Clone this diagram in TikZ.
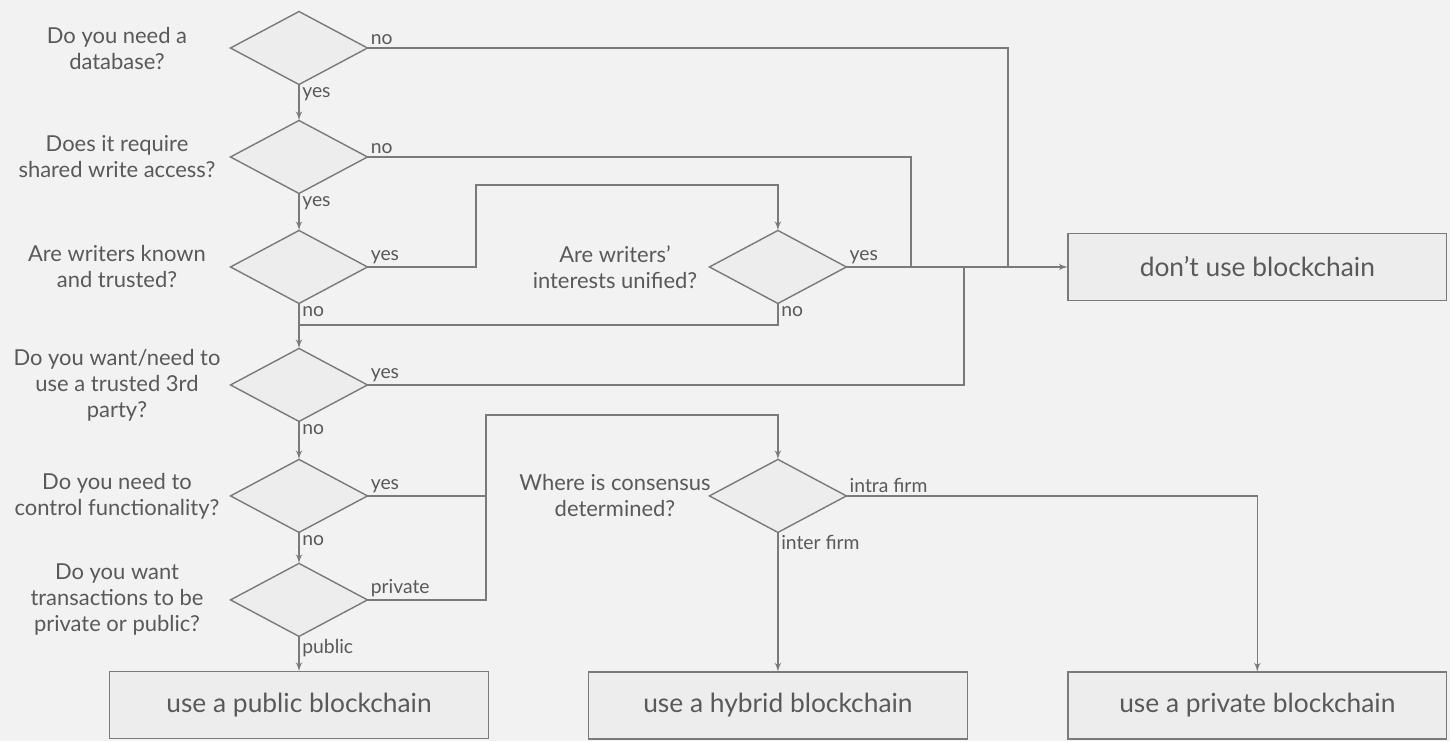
\documentclass[tikz,border=0pt]{standalone}
\usepackage{fontspec}
\setmainfont{Lato}
\usetikzlibrary{shapes,arrows,positioning}
\definecolor{bgcol}{HTML}{F2F2F2}
\definecolor{edgecol}{HTML}{7A7A7A}
\definecolor{txtcol}{HTML}{595959}
\definecolor{fillcol}{HTML}{EDEDED}
\tikzstyle{decision} = [diamond, draw=edgecol, fill=fillcol, line width=0.8pt, minimum width=2.74cm, minimum height=1.46cm, inner sep=0pt, outer sep=0pt]
\tikzstyle{question} = [align=center, text=txtcol, font=\fontsize{12.5}{14.8}\selectfont]
\tikzstyle{outcome} = [rectangle, draw=edgecol, fill=fillcol, line width=0.8pt, minimum width=7.58cm, minimum height=1.34cm, text=txtcol, font=\fontsize{15}{18}\selectfont, outer sep=0pt]
\tikzstyle{answer} = [text=txtcol, font=\fontsize{11}{13}\selectfont, inner sep=1.5pt]
\tikzstyle{line} = [draw=edgecol, line width=0.8pt, -latex']
\tikzstyle{link} = [draw=edgecol, line width=0.8pt]

\begin{document}
\begin{tikzpicture}[x=0.02cm, y=-0.02cm]
    \path[use as bounding box, fill=bgcol] (0,0) rectangle (1450,741);

    % Place nodes
    \node [decision] (d1) at (299,48) {};
    \node [decision, below=0.72cm of d1] (d2) {};
    \node [decision, below=0.74cm of d2] (d3) {};
    \node [decision, below=0.9cm of d3] (d4) {};
    \node [decision, below=0.76cm of d4] (d5) {};
    \node [decision, below=0.62cm of d5] (d6) {};
    \node [decision, right=6.84cm of d3] (dA) {};
    \node [decision, right=6.84cm of d5] (dB) {};

    \node [question] (q1) at (117,0 |- d1) {Do you need a\\database?};
    \node [question] (q2) at (117,0 |- d2) {Does it require\\shared write access?};
    \node [question] (q3) at (117,0 |- d3) {Are writers known\\and trusted?};
    \node [question] (q4) at (117,0 |- d4) {Do you want/need to\\use a trusted 3rd\\party?};
    \node [question] (q5) at (117,0 |- d5) {Do you need to\\control functionality?};
    \node [question] (q6) at (117,0 |- d6) {Do you want\\transactions to be\\private or public?};
    \node [question] (qA) at (615,0 |- dA) {Are writers’\\interests unified?};
    \node [question] (qB) at (615,0 |- dB) {Where is consensus\\determined?};

    \node [outcome, right=4.43cm of dA] (dont) {don’t use blockchain};
    \node [outcome, below=0.7cm of d6] (public) {use a public blockchain};
    \node [outcome, below=2.79cm of dB] (hybrid) {use a hybrid blockchain};
    \node [outcome] (private) at (dont |- hybrid) {use a private blockchain};

    \coordinate (nodb) at (1008,0 |- dont);
    \coordinate (noshare) at (911,0 |- dont);
    \coordinate (thirdp) at (964,0 |- dont);
    \coordinate (back) at (299,325);
    \coordinate (priv) at (486,0 |- d5);

    % Draw edges
    \path [line] (d1.south) node[answer, anchor=north west] (l1) {yes} -- (d2.north);
    \path [line] (d2.south) node[answer, anchor=north west] (l2) {yes} -- (d3.north);
    \path [line] (d3.south) node[answer, anchor=north west] (l3) {no} -- (d4.north);
    \path [line] (d4.south) node[answer, anchor=north west] (l4) {no} -- (d5.north);
    \path [line] (d5.south) node[answer, anchor=north west] (l5) {no} -- (d6.north);
    \path [line] (d6.south) node[answer, anchor=north west] (l6) {public} -- (public.north);

    \path [link] (d1.east) node[answer, anchor=south west] (l7) {no} -| (nodb);
    \path [link] (d2.east) node[answer, anchor=south west] (l8) {no} -| (noshare);
    \path [line] (d3.east) node[answer, anchor=south west] (l9) {yes} -| (476,185) -| (dA.north);
    \path [line] (dA.east) node[answer, anchor=south west] (l10) {yes} -- (dont.west);
    \path [link] (dA.south) node[answer, anchor=north west] (l11) {no} |- (back);
    \path [link] (d4.east) node[answer, anchor=south west] (l12) {yes} -| (thirdp);
    \path [line] (d5.east) node[answer, anchor=south west] (l13) {yes} -| (486,415) -| (dB.north);
    \path [link] (d6.east) node[answer, anchor=south west] (l14) {private} -| (priv);
    \path [line] (dB.east) node[answer, anchor=south west] (l15) {intra firm} -| (private.north);
    \path [line] (dB.south) node[answer, anchor=north west] (l16) {inter firm} -- (hybrid.north);
\end{tikzpicture}
\end{document}
